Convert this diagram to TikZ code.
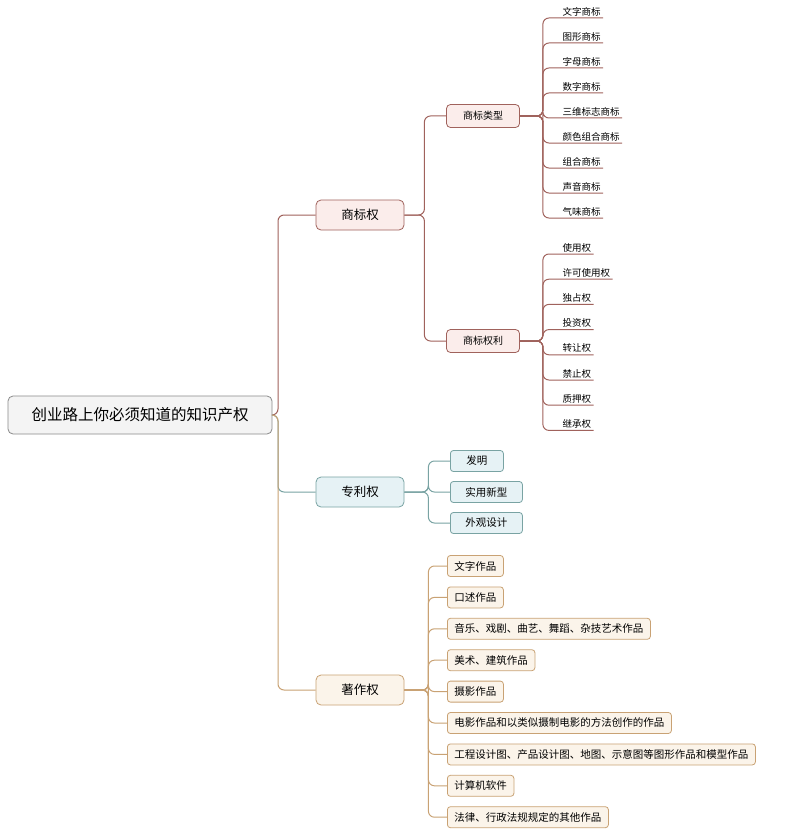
\documentclass[tikz,border=0pt]{standalone}
\usepackage{fontspec}
\setmainfont{Noto Sans CJK SC}
\usetikzlibrary{positioning}
\usetikzlibrary{calc}
\definecolor{rootborder}{HTML}{8A8A8A}
\definecolor{rootfill}{HTML}{F4F4F4}
\definecolor{tmline}{HTML}{A0625C}
\definecolor{tmfill}{HTML}{FBEDEB}
\definecolor{ptline}{HTML}{79A3A3}
\definecolor{ptfill}{HTML}{E6F2F5}
\definecolor{cpline}{HTML}{C9A274}
\definecolor{cpfill}{HTML}{FBF4EA}
\tikzstyle{rootbox}=[draw=rootborder, fill=rootfill, thick, rounded corners=5, minimum width=264pt, minimum height=38pt, font=\fontsize{15.5}{17}\selectfont]
\tikzstyle{mainbox}=[thick, rounded corners=5, minimum width=88pt, minimum height=30pt, font=\fontsize{12.5}{14}\selectfont]
\tikzstyle{subbox}=[thick, rounded corners=4, minimum width=73pt, minimum height=23pt, font=\fontsize{10}{11}\selectfont]
\tikzstyle{leafbox}=[thick, rounded corners=3, minimum height=21pt, inner xsep=7pt, anchor=west, font=\fontsize{10.5}{12}\selectfont]
\tikzstyle{leafline}=[anchor=south west, inner xsep=2pt, inner ysep=1.5pt, font=\fontsize{9.5}{10}\selectfont]
\begin{document}
\begin{tikzpicture}[x=1pt, y=-1pt, line width=1pt, rounded corners=6]
    \useasboundingbox[fill=white] (0,0) rectangle (801,832);
    \node[rootbox] at (140, 415) (root) {创业路上你必须知道的知识产权};

    \node[mainbox, draw=tmline, fill=tmfill] at (360, 215) (trademark) {商标权};
    \node[mainbox, draw=ptline, fill=ptfill] at (360, 492) (patent) {专利权};
    \node[mainbox, draw=cpline, fill=cpfill] at (360, 690) (copyright) {著作权};

    \draw[tmline] (root.east) -- (278, 415) |- (trademark.west);
    \draw[ptline] (root.east) -- (278, 415) |- (patent.west);
    \draw[cpline] (root.east) -- (278, 415) |- (copyright.west);

    % trademark
    \node[subbox, draw=tmline, fill=tmfill] at (483, 116) (tmType) {商标类型};
    \node[subbox, draw=tmline, fill=tmfill] at (483, 341) (tmRight) {商标权利};
    \draw[tmline] (trademark.east) -- ++(20, 0) |- (tmType.west);
    \draw[tmline] (trademark.east) -- ++(20, 0) |- (tmRight.west);

    \foreach \txt [count=\i from 0] in {文字商标, 图形商标, 字母商标, 数字商标, 三维标志商标, 颜色组合商标, 组合商标, 声音商标, 气味商标} {
        \node[leafline] at (560, 18 + \i*25) (type\i) {\txt};
        \draw[tmline] (tmType.east) -- ++(23, 0) |- (type\i.south east);
    }
    \foreach \txt [count=\i from 0] in {使用权, 许可使用权, 独占权, 投资权, 转让权, 禁止权, 质押权, 继承权} {
        \node[leafline] at (560, 254 + \i*25.2) (right\i) {\txt};
        \draw[tmline] (tmRight.east) -- ++(23, 0) |- (right\i.south east);
    }

    % patent
    \foreach \txt/\y/\w [count=\i] in {发明/461/53, 实用新型/492/72, 外观设计/523/72} {
        \node[leafbox, draw=ptline, fill=ptfill, minimum width=\w] at (450, \y) (pat\i) {\txt};
        \draw[ptline] (patent.east) -- ++(24, 0) |- (pat\i.west);
    }

    % copyright
    \foreach \txt [count=\i from 0] in {文字作品, 口述作品, 音乐、戏剧、曲艺、舞蹈、杂技艺术作品, 美术、建筑作品, 摄影作品, 电影作品和以类似摄制电影的方法创作的作品, 工程设计图、产品设计图、地图、示意图等图形作品和模型作品, 计算机软件, 法律、行政法规规定的其他作品} {
        \node[leafbox, draw=cpline, fill=cpfill] at (447, 566 + \i*31.4) (work\i) {\txt};
        \draw[cpline] (copyright.east) -- ++(24, 0) |- (work\i.west);
    }
\end{tikzpicture}
\end{document}
